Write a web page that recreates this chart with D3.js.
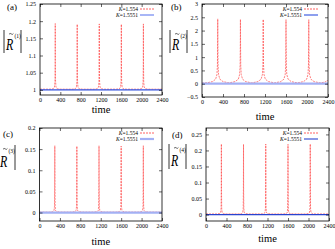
<!DOCTYPE html>
<html>
<head>
<meta charset="utf-8">
<script src="https://cdn.jsdelivr.net/npm/d3@7"></script>
<style>
  body { margin: 0; background: #fff; }
  svg { display: block; font-family: "Liberation Serif", "DejaVu Serif", serif; }
</style>
</head>
<body>
<div id="chart"></div>
<script>
// sample times (shared by all red curves)
const times = [0, 100, 200, 260, 285, 294, 298, 300, 302, 306, 315, 340, 400, 515,
  632, 692, 717, 726, 730, 732, 734, 738, 747, 772, 832, 949,
  1066, 1126, 1151, 1160, 1164, 1166, 1168, 1172, 1181, 1206, 1266, 1383,
  1500, 1560, 1585, 1594, 1598, 1600, 1602, 1606, 1615, 1640, 1700, 1817,
  1934, 1994, 2019, 2028, 2032, 2034, 2036, 2040, 2049, 2074, 2134, 2251, 2340, 2400]

const aRed = [1.002, 1.002, 1.002, 1.003, 1.008, 1.025, 1.08, 1.193, 1.08, 1.025, 1.008, 1.003, 1.002, 1.002,
  1.002, 1.003, 1.008, 1.025, 1.08, 1.191, 1.08, 1.025, 1.008, 1.003, 1.002, 1.002,
  1.002, 1.003, 1.008, 1.025, 1.08, 1.192, 1.08, 1.025, 1.008, 1.003, 1.002, 1.002,
  1.002, 1.003, 1.008, 1.025, 1.08, 1.191, 1.08, 1.025, 1.008, 1.003, 1.002, 1.002,
  1.002, 1.003, 1.008, 1.025, 1.08, 1.192, 1.08, 1.025, 1.008, 1.003, 1.002, 1.002, 1.002, 1.002]

const bRed = [0.02, 0.035, 0.08, 0.17, 0.35, 0.7, 1.5, 2.44, 1.5, 0.7, 0.35, 0.17, 0.08, 0.03,
  0.08, 0.17, 0.35, 0.7, 1.5, 2.42, 1.5, 0.7, 0.35, 0.17, 0.08, 0.03,
  0.08, 0.17, 0.35, 0.7, 1.5, 2.42, 1.5, 0.7, 0.35, 0.17, 0.08, 0.03,
  0.08, 0.17, 0.35, 0.7, 1.5, 2.41, 1.5, 0.7, 0.35, 0.17, 0.08, 0.03,
  0.08, 0.17, 0.35, 0.7, 1.5, 2.41, 1.5, 0.7, 0.35, 0.17, 0.08, 0.03, 0.06, 0.13]

const cRed = [0.001, 0.001, 0.001, 0.002, 0.005, 0.015, 0.06, 0.158, 0.06, 0.015, 0.005, 0.002, 0.001, 0.001,
  0.001, 0.002, 0.005, 0.015, 0.06, 0.157, 0.06, 0.015, 0.005, 0.002, 0.001, 0.001,
  0.001, 0.002, 0.005, 0.015, 0.06, 0.158, 0.06, 0.015, 0.005, 0.002, 0.001, 0.001,
  0.001, 0.002, 0.005, 0.015, 0.06, 0.157, 0.06, 0.015, 0.005, 0.002, 0.001, 0.001,
  0.001, 0.002, 0.005, 0.015, 0.06, 0.158, 0.06, 0.015, 0.005, 0.002, 0.001, 0.001, 0.001, 0.001]

const dRed = [0.002, 0.002, 0.002, 0.003, 0.006, 0.02, 0.08, 0.22, 0.08, 0.02, 0.006, 0.003, 0.002, 0.002,
  0.002, 0.003, 0.006, 0.02, 0.08, 0.219, 0.08, 0.02, 0.006, 0.003, 0.002, 0.002,
  0.002, 0.003, 0.006, 0.02, 0.08, 0.22, 0.08, 0.02, 0.006, 0.003, 0.002, 0.002,
  0.002, 0.003, 0.006, 0.02, 0.08, 0.219, 0.08, 0.02, 0.006, 0.003, 0.002, 0.002,
  0.002, 0.003, 0.006, 0.02, 0.08, 0.22, 0.08, 0.02, 0.006, 0.003, 0.002, 0.002, 0.002, 0.002]

const blueTimes = [0, 2400]
const aBlue = [1.0, 1.0]
const bBlue = [0, 0]
const cBlue = [0, 0]
const dBlue = [0, 0]

const xTicks = [0, 400, 800, 1200, 1600, 2000, 2400]
const aTicks = [1, 1.05, 1.1, 1.15, 1.2, 1.25]
const bTicks = [-0.5, 0, 0.5, 1, 1.5, 2, 2.5, 3]
const cTicks = [0, 0.05, 0.1, 0.15, 0.2]
const dTicks = [0, 0.05, 0.1, 0.15, 0.2, 0.25]
const legendK = ['1.554', '1.5551']
const letters = ['(a)', '(b)', '(c)', '(d)']
const superscripts = ['(1)', '(2)', '(3)', '(4)']

const width = 335, height = 249
const redColor = '#ff3b3b'

let svg = d3.select('#chart').append('svg')
  .attr('width', width)
  .attr('height', height)

let panels = [
  { red: aRed, blue: aBlue, ticks: aTicks, dom: [0.985, 1.25], x0: 40, x1: 162, y0: 4, y1: 95,
    blueColor: '#3050e0', blueW: 1.1, legBlue: '#a8b6f6', legBlueW: 2,
    letter: [7, 10], legX: 138, legY: 9, timeY: 113, lab: [4, 30, 53], leftBar: true },
  { red: bRed, blue: bBlue, ticks: bTicks, dom: [-0.5, 3], x0: 202, x1: 328, y0: 4, y1: 97,
    blueColor: '#a3b0f4', blueW: 2.2, legBlue: '#3050e0', legBlueW: 1.1,
    letter: [171, 10], legX: 302, legY: 9, timeY: 120, lab: [170, 30, 53], leftBar: true },
  { red: cRed, blue: cBlue, ticks: cTicks, dom: [-0.02, 0.2], x0: 39.5, x1: 162, y0: 128, y1: 221,
    blueColor: '#a3b0f4', blueW: 2.2, legBlue: '#a3b0f4', legBlueW: 2.2,
    letter: [3, 137], legX: 138, legY: 133, timeY: 245, lab: [-2, 145, 170], leftBar: false },
  { red: dRed, blue: dBlue, ticks: dTicks, dom: [-0.02, 0.27], x0: 206, x1: 329, y0: 128, y1: 221,
    blueColor: '#2a44d0', blueW: 1.2, legBlue: '#2a44d0', legBlueW: 1.1,
    letter: [172, 138], legX: 302, legY: 133, timeY: 242, lab: [169, 144, 169], leftBar: true }
]

let fmt = (d) => (String(+d.toFixed(3)).replace('-', '\u2212'))

panels.forEach((p, i) => {
  let x = d3.scaleLinear().domain([0, 2400]).range([p.x0, p.x1])
  let y = d3.scaleLinear().domain(p.dom).range([p.y1, p.y0])
  let g = svg.append('g')

  let clipId = 'clip' + i
  g.append('clipPath').attr('id', clipId)
    .append('rect')
    .attr('x', p.x0).attr('y', p.y0)
    .attr('width', p.x1 - p.x0).attr('height', p.y1 - p.y0)

  let line = d3.line()
    .x((d) => (x(d[0])))
    .y((d) => (y(d[1])))

  let plot = g.append('g').attr('clip-path', `url(#${clipId})`)

  plot.append('path')
    .datum(times.map((t, k) => [t, p.red[k]]))
    .attr('d', line)
    .attr('fill', 'none')
    .attr('stroke', redColor)
    .attr('stroke-width', 0.65)
    .attr('stroke-dasharray', '2,1')

  plot.append('path')
    .datum(blueTimes.map((t, k) => [t, p.blue[k]]))
    .attr('d', line)
    .attr('fill', 'none')
    .attr('stroke', p.blueColor)
    .attr('stroke-width', p.blueW)

  // axes
  let xAxis = g.append('g')
    .attr('transform', `translate(0,${p.y1})`)
    .call(d3.axisBottom(x).tickValues(xTicks).tickSize(-3).tickPadding(3).tickFormat(fmt))
  g.append('g')
    .attr('transform', `translate(0,${p.y0})`)
    .call(d3.axisTop(x).tickValues(xTicks).tickSize(-3).tickFormat(''))
  g.append('g')
    .attr('transform', `translate(${p.x0},0)`)
    .call(d3.axisLeft(y).tickValues(p.ticks).tickSize(-3).tickPadding(4).tickFormat(fmt))
  g.append('g')
    .attr('transform', `translate(${p.x1},0)`)
    .call(d3.axisRight(y).tickValues(p.ticks).tickSize(-3).tickFormat(''))

  g.selectAll('.domain').remove()
  g.selectAll('.tick line').attr('stroke', '#000').attr('stroke-width', 0.6)
  g.selectAll('.tick text')
    .attr('font-family', '"Liberation Serif", serif')
    .attr('font-size', 6)
    .attr('fill', '#000')
  xAxis.selectAll('.tick text').attr('dy', '0.6em')

  g.append('rect')
    .attr('x', p.x0).attr('y', p.y0)
    .attr('width', p.x1 - p.x0).attr('height', p.y1 - p.y0)
    .attr('fill', 'none')
    .attr('stroke', '#000')
    .attr('stroke-width', 0.8)

  // legend
  legendK.forEach((k, j) => {
    let ly = p.legY + j * 6
    let t = g.append('text')
      .attr('x', p.legX).attr('y', ly + 2)
      .attr('text-anchor', 'end')
      .attr('font-size', 5.5)
    t.append('tspan').attr('font-style', 'italic').text('K')
    t.append('tspan').text('=' + k)
    g.append('line')
      .attr('x1', p.legX + 2).attr('x2', p.legX + 16)
      .attr('y1', ly).attr('y2', ly)
      .attr('stroke', j === 0 ? redColor : p.legBlue)
      .attr('stroke-width', j === 0 ? 0.8 : p.legBlueW)
      .attr('stroke-dasharray', j === 0 ? '2,1' : null)
  })

  // panel letter
  g.append('text')
    .attr('x', p.letter[0]).attr('y', p.letter[1])
    .attr('font-size', 9)
    .text(letters[i])

  // x label
  g.append('text')
    .attr('x', (p.x0 + p.x1) / 2).attr('y', p.timeY)
    .attr('text-anchor', 'middle')
    .attr('font-size', 10.5)
    .text('time')

  // y label |R~(n)|
  let lx = p.lab[0], ly0 = p.lab[1], ly1 = p.lab[2]
  if (p.leftBar) {
    g.append('line')
      .attr('x1', lx).attr('x2', lx).attr('y1', ly0).attr('y2', ly1)
      .attr('stroke', '#000').attr('stroke-width', 0.8)
  }
  g.append('line')
    .attr('x1', lx + 17).attr('x2', lx + 17).attr('y1', ly0).attr('y2', ly1)
    .attr('stroke', '#000').attr('stroke-width', 0.8)
  g.append('text')
    .attr('transform', `translate(${lx + 2},${ly1 - 3.5}) scale(0.7,1)`)
    .attr('font-size', 17)
    .attr('font-style', 'italic')
    .text('R')
  // tilde accent over R
  let tx = lx + 5, ty = ly0 + 3.5
  g.append('path')
    .attr('d', `M${tx},${ty + 0.8} q1,-1.6 2.2,-0.4 q1.2,1.2 2.2,-0.4`)
    .attr('fill', 'none')
    .attr('stroke', '#000')
    .attr('stroke-width', 0.6)
  g.append('text')
    .attr('x', lx + 10.5).attr('y', ly0 + 8)
    .attr('font-size', 5.5)
    .text(superscripts[i])
})
</script>
</body>
</html>
